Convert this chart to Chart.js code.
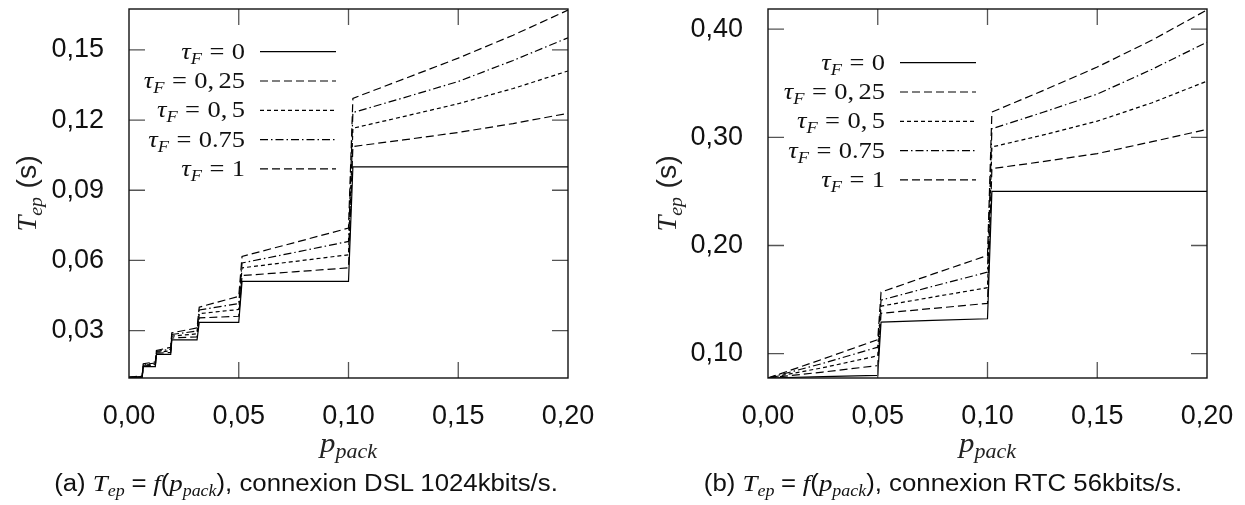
<!DOCTYPE html>
<html>
<head>
<meta charset="utf-8">
<script src="https://cdn.jsdelivr.net/npm/chart.js@4.4.1/dist/chart.umd.min.js"></script>
<style>
  body { margin: 0; background: #fff; width: 1245px; height: 505px; overflow: hidden; position: relative; }
  .box { position: absolute; top: 0; width: 620px; height: 505px; }
  #box1 { left: 0; }
  #box2 { left: 625px; }
  .cap { position: absolute; top: 470px; font-family: "Liberation Sans", Arial, sans-serif; font-size: 23px; line-height: 27px; color: #111; white-space: nowrap; transform: translateX(-50%) scaleX(1.12); }
  .cap i { font-family: "Liberation Serif", serif; font-size: 24px; }
  .cap sub { font-size: 16px; vertical-align: -5px; line-height: 0; }
  .cap .sp { display: inline-block; width: 6px; }
</style>
</head>
<body>
<div class="box" id="box1"><canvas id="dsl"></canvas></div>
<div class="box" id="box2"><canvas id="rtc"></canvas></div>
<div class="cap" style="left:306px">(a) <i>T<sub>ep</sub></i><span class="sp"></span>=<span class="sp"></span><i>f</i>(<i>p<sub>pack</sub></i>), connexion DSL 1024kbits/s.</div>
<div class="cap" style="left:943px">(b) <i>T<sub>ep</sub></i><span class="sp"></span>=<span class="sp"></span><i>f</i>(<i>p<sub>pack</sub></i>), connexion RTC 56kbits/s.</div>
<script>
// legend labels and dash styles, tau_F = 0 .. 1
const tauLabels = ["0", "0, 25", "0, 5", "0.75", "1"];
const tauDash = [[], [8, 4], [4, 3], [8, 3, 1.5, 3], [8, 4]];
const xTicks = [0, 0.05, 0.10, 0.15, 0.20];

// (a) DSL 1024 kbits/s
const dslP = [0, 0.006, 0.0065, 0.012, 0.0125, 0.019, 0.0195, 0.031, 0.032, 0.05, 0.0515, 0.075, 0.1, 0.102, 0.125, 0.15, 0.175, 0.2];
const dslTau0   = [0.0100, 0.0100, 0.0146, 0.0146, 0.0198, 0.0198, 0.0260, 0.0260, 0.0335, 0.0335, 0.0510, 0.0510, 0.0510, 0.1000, 0.1000, 0.1000, 0.1000, 0.1000];
const dslTau025 = [0.0100, 0.0101, 0.0149, 0.0151, 0.0203, 0.0206, 0.0268, 0.0273, 0.0354, 0.0361, 0.0535, 0.0551, 0.0568, 0.1087, 0.1115, 0.1147, 0.1185, 0.1229];
const dslTau05  = [0.0100, 0.0103, 0.0152, 0.0156, 0.0207, 0.0213, 0.0276, 0.0286, 0.0372, 0.0390, 0.0568, 0.0595, 0.0624, 0.1165, 0.1215, 0.1270, 0.1335, 0.1410];
const dslTau075 = [0.0100, 0.0104, 0.0155, 0.0161, 0.0211, 0.0220, 0.0283, 0.0298, 0.0388, 0.0415, 0.0589, 0.0633, 0.0681, 0.1232, 0.1295, 0.1365, 0.1455, 0.1552];
const dslTau1   = [0.0100, 0.0106, 0.0158, 0.0166, 0.0215, 0.0228, 0.0290, 0.0311, 0.0400, 0.0446, 0.0617, 0.0675, 0.0738, 0.1293, 0.1375, 0.1465, 0.1563, 0.1670];
const dslYTicks = [0.03, 0.06, 0.09, 0.12, 0.15];

// (b) RTC 56 kbits/s
const rtcP = [0, 0.025, 0.05, 0.0515, 0.075, 0.1, 0.102, 0.125, 0.15, 0.175, 0.2];
const rtcTau0   = [0.0775, 0.0788, 0.0800, 0.1292, 0.1307, 0.1323, 0.2500, 0.2500, 0.2500, 0.2500, 0.2500];
const rtcTau025 = [0.0775, 0.0830, 0.0890, 0.1373, 0.1418, 0.1465, 0.2711, 0.2775, 0.2850, 0.2960, 0.3074];
const rtcTau05  = [0.0775, 0.0870, 0.0980, 0.1440, 0.1523, 0.1610, 0.2911, 0.3020, 0.3150, 0.3320, 0.3520];
const rtcTau075 = [0.0775, 0.0910, 0.1060, 0.1495, 0.1622, 0.1754, 0.3080, 0.3230, 0.3400, 0.3630, 0.3880];
const rtcTau1   = [0.0775, 0.0950, 0.1130, 0.1569, 0.1735, 0.1908, 0.3234, 0.3430, 0.3650, 0.3900, 0.4178];
const rtcYTicks = [0.10, 0.20, 0.30, 0.40];

const sans = '"Liberation Sans", Arial, sans-serif';
const serif = '"Liberation Serif", "DejaVu Serif", serif';

// draws a run of text pieces, some italic / subscript / spaced, like TeX math
// hs widens the run a little, TeX fonts being broader than Times
function drawRich(ctx, parts, x, y, align, size, hs) {
  hs = hs || 1;
  const fontOf = p => (p.it ? 'italic ' : '') + Math.round(p.sub ? size * 0.7 : size) + 'px ' + (p.sans ? sans : serif);
  const widthOf = p => { if (p.gap) return p.gap * size; ctx.font = fontOf(p); return ctx.measureText(p.t).width; };
  let w = 0;
  parts.forEach(p => { w += widthOf(p); });
  w *= hs;
  const x0 = align === 'right' ? x - w : align === 'center' ? x - w / 2 : x;
  ctx.save();
  ctx.translate(x0, y);
  ctx.scale(hs, 1);
  ctx.textAlign = 'left';
  ctx.textBaseline = 'alphabetic';
  let cx = 0;
  parts.forEach(p => {
    if (!p.gap) {
      ctx.font = fontOf(p);
      ctx.fillText(p.t, cx, p.sub ? size * 0.22 : 0);
    }
    cx += widthOf(p);
  });
  ctx.restore();
}

function tauParts(label) {
  const parts = [{t: 'τ', it: true}, {t: 'F', it: true, sub: true}, {gap: 0.28}, {t: '='}, {gap: 0.28}];
  const bits = label.split(', ');
  parts.push({t: bits[0]});
  if (bits.length > 1) parts.push({t: ','}, {gap: 0.17}, {t: bits[1]});
  return parts;
}

const framePlugin = {
  id: 'frame',
  afterDatasetsDraw(chart, args, opts) {
    const ctx = chart.ctx;
    const a = chart.chartArea;
    const xs = chart.scales.x, ys = chart.scales.y;
    ctx.save();
    // inward ticks on all four sides
    ctx.strokeStyle = '#555';
    ctx.lineWidth = 1.3;
    ctx.beginPath();
    xs.ticks.forEach(t => {
      const px = xs.getPixelForValue(t.value);
      if (px <= a.left + 1 || px >= a.right - 1) return;
      ctx.moveTo(px, a.bottom); ctx.lineTo(px, a.bottom - 16);
      ctx.moveTo(px, a.top); ctx.lineTo(px, a.top + 16);
    });
    ys.ticks.forEach(t => {
      const py = ys.getPixelForValue(t.value);
      ctx.moveTo(a.left, py); ctx.lineTo(a.left + 16, py);
      ctx.moveTo(a.right, py); ctx.lineTo(a.right - 16, py);
    });
    ctx.stroke();
    ctx.strokeStyle = '#111';
    ctx.lineWidth = 1.4;
    ctx.strokeRect(a.left, a.top, a.right - a.left, a.bottom - a.top);

    // legend, text right-aligned, sample on the right
    ctx.fillStyle = '#111';
    chart.data.datasets.forEach((ds, i) => {
      const y = opts.legendY + i * opts.legendStep;
      drawRich(ctx, tauParts(tauLabels[i]), opts.legendX, y + 7, 'right', 23, 1.15);
      ctx.strokeStyle = '#000';
      ctx.lineWidth = 1.2;
      ctx.setLineDash(ds.borderDash);
      ctx.beginPath();
      ctx.moveTo(opts.legendX + 15, y);
      ctx.lineTo(opts.legendX + 91, y);
      ctx.stroke();
      ctx.setLineDash([]);
    });

    // axis titles
    ctx.fillStyle = '#222';
    ctx.save();
    ctx.translate(opts.yTitleX, (a.top + a.bottom) / 2);
    ctx.rotate(-Math.PI / 2);
    drawRich(ctx, [{t: 'T', it: true}, {t: 'ep', it: true, sub: true}, {gap: 0.3}, {t: '(s)', sans: true}], 0, 9, 'center', 27, 1.05);
    ctx.restore();
    drawRich(ctx, [{t: 'p', it: true}, {t: 'pack', it: true, sub: true}], (a.left + a.right) / 2, opts.xTitleY, 'center', 28, 1.1);
    ctx.restore();
  }
};

function makeChart(id, xs, series, yTicks, yMin, yMax, leftW, rightPad, legendX, legendY, yTitleX) {
  const datasets = series.map((ys, i) => ({
    label: 'τF = ' + tauLabels[i],
    data: xs.map((x, j) => ({x: x, y: ys[j]})),
    borderColor: '#000',
    borderWidth: 1.2,
    borderDash: tauDash[i],
    pointRadius: 0,
    tension: 0,
    fill: false
  }));
  return new Chart(document.getElementById(id), {
    type: 'line',
    data: {datasets: datasets},
    plugins: [framePlugin],
    options: {
      responsive: false,
      animation: false,
      devicePixelRatio: 1,
      layout: {padding: {top: 9, right: rightPad, bottom: 0, left: 0}},
      plugins: {
        legend: {display: false},
        tooltip: {enabled: false},
        frame: {legendX: legendX, legendY: legendY, legendStep: 29.3, yTitleX: yTitleX, xTitleY: 452}
      },
      scales: {
        x: {
          type: 'linear', min: 0, max: 0.2,
          afterBuildTicks: s => { s.ticks = xTicks.map(v => ({value: v})); },
          afterFit: s => { s.height = 127; s.paddingLeft = 0; s.paddingRight = 0; },
          grid: {display: false}, border: {display: false},
          ticks: {padding: 14, color: '#111', font: {family: sans, size: 27}, maxRotation: 0,
                  callback: v => v.toFixed(2).replace('.', ',')}
        },
        y: {
          type: 'linear', min: yMin, max: yMax,
          afterBuildTicks: s => { s.ticks = yTicks.map(v => ({value: v})); },
          afterFit: s => { s.width = leftW; s.paddingTop = 0; s.paddingBottom = 0; },
          grid: {display: false}, border: {display: false},
          ticks: {padding: 17, color: '#111', font: {family: sans, size: 27},
                  callback: v => v.toFixed(2).replace('.', ',')}
        }
      }
    }
  });
}

const c1 = document.getElementById('dsl'); c1.width = 620; c1.height = 505;
const c2 = document.getElementById('rtc'); c2.width = 620; c2.height = 505;

makeChart('dsl', dslP, [dslTau0, dslTau025, dslTau05, dslTau075, dslTau1], dslYTicks, 0.0097, 0.1675, 129, 52, 245, 51.7, 27);
makeChart('rtc', rtcP, [rtcTau0, rtcTau025, rtcTau05, rtcTau075, rtcTau1], rtcYTicks, 0.0775, 0.4187, 143, 38, 260, 62.7, 42);
</script>
</body>
</html>
